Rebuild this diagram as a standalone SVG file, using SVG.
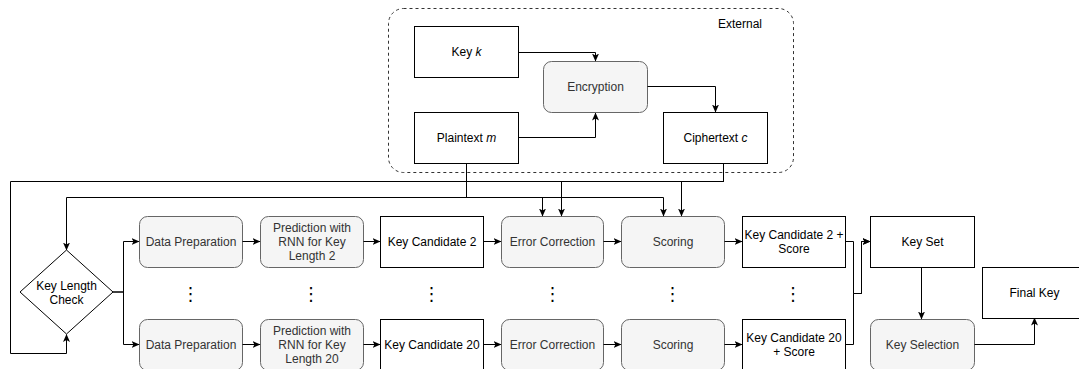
<svg xmlns="http://www.w3.org/2000/svg" width="1079" height="369" viewBox="0 0 1079 369">
  <defs>
    <marker id="arrow" viewBox="0 0 8 8" refX="7.5" refY="4" markerWidth="8" markerHeight="8" markerUnits="userSpaceOnUse" orient="auto">
      <path d="M0,0.5 L8,4 L0,7.5 L2,4 Z" fill="#000" stroke="none"/>
    </marker>
  </defs>
  <style>
    text { font-family: "Liberation Sans", Arial, sans-serif; font-size: 12px; text-anchor: middle; dominant-baseline: central; }
    .plain rect { fill: #ffffff; stroke: #000000; stroke-width: 1; }
    .proc rect { fill: #f5f5f5; stroke: #666666; stroke-width: 1; }
    .plain text { fill: #000000; }
    .proc text { fill: #333333; }
    .edge { fill: none; stroke: #000000; stroke-width: 1; }
    .arrow { marker-end: url(#arrow); }
    .dots { font-family: "DejaVu Sans", sans-serif; font-size: 18px; fill: #000; }
  </style>
  <rect width="1079" height="369" fill="#ffffff"/>

  <!-- external environment -->
  <g id="external">
    <rect x="388.5" y="8.5" width="405" height="164" rx="15" fill="none" stroke="#333333" stroke-dasharray="3 3"/>
    <text x="762" y="24" style="text-anchor:end">External</text>
  </g>
  <g id="key-k" class="plain">
    <rect x="414.5" y="26.5" width="104" height="51"/>
    <text x="466.5" y="52">Key <tspan font-style="italic">k</tspan></text>
  </g>
  <g id="encryption" class="proc">
    <rect x="543.5" y="61.5" width="104" height="51" rx="8"/>
    <text x="595.5" y="87">Encryption</text>
  </g>
  <g id="plaintext" class="plain">
    <rect x="414.5" y="112.5" width="104" height="51"/>
    <text x="466.5" y="138">Plaintext <tspan font-style="italic">m</tspan></text>
  </g>
  <g id="ciphertext" class="plain">
    <rect x="663.5" y="112.5" width="104" height="51"/>
    <text x="715.5" y="138">Ciphertext <tspan font-style="italic">c</tspan></text>
  </g>

  <!-- key length check -->
  <g id="key-length-check" class="plain">
    <polygon points="66.5,250 113,292 66.5,334 20,292" fill="#ffffff" stroke="#000000"/>
    <text x="66.5" y="286">Key Length</text>
    <text x="66.5" y="300">Check</text>
  </g>

  <!-- pipeline for key length 2 -->
  <g id="data-prep-2" class="proc">
    <rect x="139.5" y="216.5" width="103" height="51" rx="8"/>
    <text x="191" y="242">Data Preparation</text>
  </g>
  <g id="prediction-2" class="proc">
    <rect x="260.5" y="216.5" width="103" height="51" rx="8"/>
    <text x="312" y="228">Prediction with</text>
    <text x="312" y="242">RNN for Key</text>
    <text x="312" y="256">Length 2</text>
  </g>
  <g id="key-candidate-2" class="plain">
    <rect x="380.5" y="216.5" width="103" height="51"/>
    <text x="432" y="242">Key Candidate 2</text>
  </g>
  <g id="error-correction-2" class="proc">
    <rect x="501.5" y="216.5" width="102" height="51" rx="8"/>
    <text x="552.5" y="242">Error Correction</text>
  </g>
  <g id="scoring-2" class="proc">
    <rect x="621.5" y="216.5" width="103" height="51" rx="8"/>
    <text x="673" y="242">Scoring</text>
  </g>
  <g id="scored-candidate-2" class="plain">
    <rect x="742.5" y="216.5" width="103" height="51"/>
    <text x="794" y="235">Key Candidate 2 +</text>
    <text x="794" y="249">Score</text>
  </g>

  <!-- pipeline for key length 20 -->
  <g id="data-prep-20" class="proc">
    <rect x="139.5" y="319.5" width="103" height="51" rx="8"/>
    <text x="191" y="345">Data Preparation</text>
  </g>
  <g id="prediction-20" class="proc">
    <rect x="260.5" y="319.5" width="103" height="51" rx="8"/>
    <text x="312" y="331">Prediction with</text>
    <text x="312" y="345">RNN for Key</text>
    <text x="312" y="359">Length 20</text>
  </g>
  <g id="key-candidate-20" class="plain">
    <rect x="380.5" y="319.5" width="103" height="51"/>
    <text x="432" y="345">Key Candidate 20</text>
  </g>
  <g id="error-correction-20" class="proc">
    <rect x="501.5" y="319.5" width="102" height="51" rx="8"/>
    <text x="552.5" y="345">Error Correction</text>
  </g>
  <g id="scoring-20" class="proc">
    <rect x="621.5" y="319.5" width="103" height="51" rx="8"/>
    <text x="673" y="345">Scoring</text>
  </g>
  <g id="scored-candidate-20" class="plain">
    <rect x="742.5" y="319.5" width="103" height="51"/>
    <text x="794" y="338">Key Candidate 20</text>
    <text x="794" y="352">+ Score</text>
  </g>

  <!-- vertical ellipses between the two pipelines -->
  <g id="ellipses">
    <text class="dots" x="190.5" y="293">⋮</text>
    <text class="dots" x="311" y="293">⋮</text>
    <text class="dots" x="431.5" y="293">⋮</text>
    <text class="dots" x="552.5" y="293">⋮</text>
    <text class="dots" x="672.5" y="293">⋮</text>
    <text class="dots" x="793" y="293">⋮</text>
  </g>

  <!-- key set and selection -->
  <g id="key-set" class="plain">
    <rect x="870.5" y="216.5" width="104" height="51"/>
    <text x="922.5" y="242">Key Set</text>
  </g>
  <g id="key-selection" class="proc">
    <rect x="870.5" y="319.5" width="104" height="51" rx="8"/>
    <text x="922.5" y="345">Key Selection</text>
  </g>
  <g id="final-key" class="plain">
    <rect x="982.5" y="267.5" width="104" height="51"/>
    <text x="1034.5" y="293">Final Key</text>
  </g>

  <!-- connectors -->
  <g id="connectors">
    <path class="edge arrow" d="M518.5,52.5 H595.5 V61"/>
    <path class="edge arrow" d="M518.5,137.5 H595.5 V113"/>
    <path class="edge arrow" d="M647.5,86.5 H715.5 V112"/>

    <path class="edge arrow" d="M723.5,163.5 V181.5 H10.5 V353.5 H66.5 V334.5"/>
    <path class="edge arrow" d="M723.5,163.5 V181.5 H561.5 V216"/>
    <path class="edge arrow" d="M723.5,163.5 V181.5 H681.5 V216"/>

    <path class="edge arrow" d="M466.5,163.5 V197.5 H66.5 V250"/>
    <path class="edge arrow" d="M466.5,163.5 V197.5 H542.5 V216"/>
    <path class="edge arrow" d="M466.5,163.5 V197.5 H663.5 V216"/>

    <path class="edge arrow" d="M113,292 H123.5 V241.5 H139"/>
    <path class="edge arrow" d="M113,292 H123.5 V344.5 H139"/>

    <path class="edge arrow" d="M242.5,241.5 H260"/>
    <path class="edge arrow" d="M363.5,241.5 H380"/>
    <path class="edge arrow" d="M483.5,241.5 H501"/>
    <path class="edge arrow" d="M603.5,241.5 H621"/>
    <path class="edge arrow" d="M724.5,241.5 H742"/>

    <path class="edge arrow" d="M242.5,344.5 H260"/>
    <path class="edge arrow" d="M363.5,344.5 H380"/>
    <path class="edge arrow" d="M483.5,344.5 H501"/>
    <path class="edge arrow" d="M603.5,344.5 H621"/>
    <path class="edge arrow" d="M724.5,344.5 H742"/>

    <path class="edge arrow" d="M845.5,241.5 H853.5 V293.5 H861.5 V241.5 H870"/>
    <path class="edge arrow" d="M845.5,344.5 H853.5 V293.5 H861.5 V241.5 H870"/>

    <path class="edge arrow" d="M921.5,267.5 V319"/>
    <path class="edge arrow" d="M974.5,344.5 H1034.5 V318"/>
  </g>
</svg>
